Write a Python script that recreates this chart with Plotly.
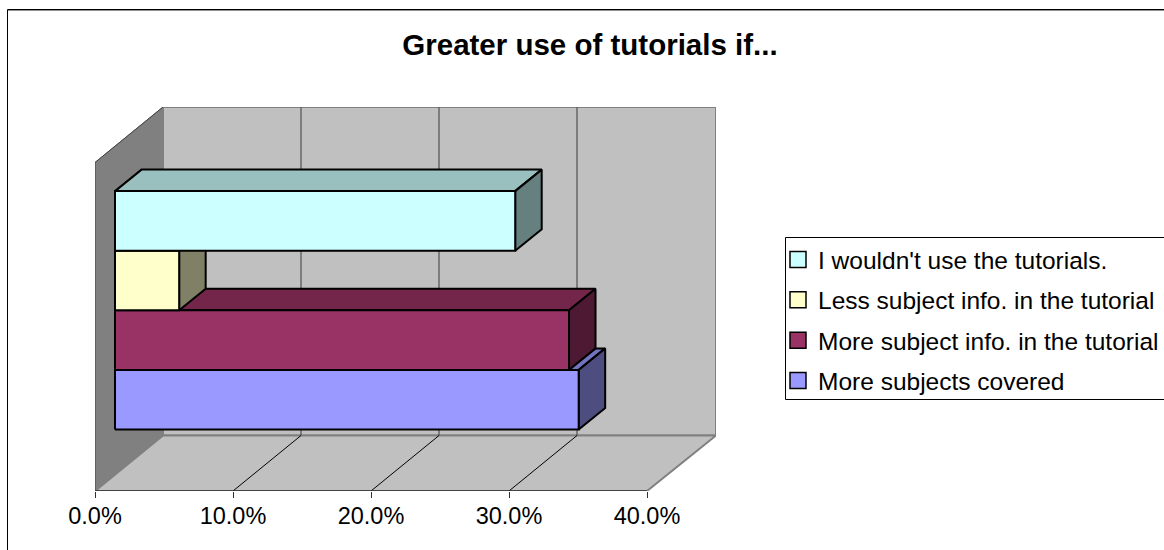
import plotly.graph_objects as go

categories = ["More subjects covered", "More subject info. in the tutorial",
              "Less subject info. in the tutorial", "I wouldn't use the tutorials."]
values = [33.6, 32.9, 4.65, 29.0]
front_colors = ["#9999FF", "#993366", "#FFFFCC", "#CCFFFF"]
top_colors = ["#7373BF", "#732649", "#BFBF99", "#99BFBF"]
side_colors = ["#4D4D80", "#4D1933", "#808066", "#668080"]
tick_values = [0, 10, 20, 30, 40]
tick_labels = ["0.0%", "10.0%", "20.0%", "30.0%", "40.0%"]
title_text = "<b>Greater use of tutorials if...</b>"

# pixel frame of the axes
L, R, T, B = 95, 716, 107, 491
PX = 13.8   # px per percent
PY = 59.6   # px per row
X_MAX = (R - L) / PX
Y_MAX = (B - T) / PY
WALL_DX, WALL_DY = 68 / PX, 55.5 / PY
BAR_DX, BAR_DY = 26.5 / PX, 21.5 / PY
BAR_X0 = 20 / PX
ROW_Y0 = (B - 429.5) / PY
AX_MAX = 40
FONT = "Liberation Sans, Arial, sans-serif"


def px(x):
    return (x - L) / (R - L)


def py(y):
    return (B - y) / (B - T)


def poly(xs, ys, fill, line, width=1.0):
    return go.Scatter(x=xs + xs[:1], y=ys + ys[:1], mode="lines", fill="toself", fillcolor=fill,
                      line=dict(color=line, width=width), hoverinfo="skip", showlegend=False)


def seg(xs, ys, color, width):
    return go.Scatter(x=xs, y=ys, mode="lines", line=dict(color=color, width=width),
                      hoverinfo="skip", showlegend=False)


fig = go.Figure()
wx, wy = WALL_DX, WALL_DY
top_y = Y_MAX
# walls and floor
fig.add_trace(poly([wx, X_MAX, X_MAX, wx], [wy, wy, top_y, top_y], "#C0C0C0", "#808080", 2))
fig.add_trace(poly([0, wx, wx, 0], [0, wy, top_y, top_y - wy], "#808080", "#808080", 1))
fig.add_trace(poly([0, AX_MAX, X_MAX, wx], [0, 0, wy, wy], "#C0C0C0", "#808080", 2))
fig.add_trace(seg([0, 0, wx], [0, top_y - wy, top_y], "#404040", 1))
# gridlines
for t in tick_values[1:-1]:
    fig.add_trace(seg([t + wx, t + wx], [wy, top_y], "#505050", 1.2))
    fig.add_trace(seg([t, t + wx], [0, wy], "#000000", 1))
fig.add_trace(seg([0, AX_MAX], [0, 0], "#303030", 1.5))

# bars, lowest first so that upper bars hide the tops of lower ones
for i, v in enumerate(values):
    x0, x1 = BAR_X0, BAR_X0 + v
    y0, y1 = ROW_Y0 + i, ROW_Y0 + i + 1
    fig.add_trace(poly([x0, x1, x1 + BAR_DX, x0 + BAR_DX], [y1, y1, y1 + BAR_DY, y1 + BAR_DY],
                       top_colors[i], "#000000", 2))
    fig.add_trace(poly([x1, x1 + BAR_DX, x1 + BAR_DX, x1], [y0, y0 + BAR_DY, y1 + BAR_DY, y1],
                       side_colors[i], "#000000", 2))
    fig.add_trace(poly([x0, x1, x1, x0], [y0, y0, y1, y1], front_colors[i], "#000000", 2))

# legend entries, top to bottom
for i in range(len(categories) - 1, -1, -1):
    fig.add_trace(go.Scatter(x=[None], y=[None], mode="markers", name=categories[i],
                             legendgroup=categories[i],
                             marker=dict(symbol="square", size=16, color=front_colors[i],
                                         line=dict(color="#000000", width=1.5))))

lg_left, lg_top, lg_bottom = 785.5, 237.5, 399.5
shapes = [
    dict(type="path", xref="paper", yref="paper", line=dict(color="#000000", width=1),
         path=f"M {px(1164)},{py(lg_top)} L {px(lg_left)},{py(lg_top)} L {px(lg_left)},{py(lg_bottom)} L {px(1164)},{py(lg_bottom)}"),
    dict(type="path", xref="paper", yref="paper", line=dict(color="#909090", width=1),
         path=f"M {px(8)},{py(10.5)} L {px(1164)},{py(10.5)}"),
    dict(type="path", xref="paper", yref="paper", line=dict(color="#000000", width=1),
         path=f"M {px(7.5)},{py(550)} L {px(7.5)},{py(9.5)} L {px(1164)},{py(9.5)}"),
]

fig.update_layout(
    width=1164, height=550, autosize=False,
    paper_bgcolor="#FFFFFF", plot_bgcolor="rgba(0,0,0,0)",
    margin=dict(l=L, r=1164 - R, t=T, b=550 - B, autoexpand=False),
    font=dict(family=FONT, color="#000000", size=23),
    title=dict(text=title_text, xref="container", yref="container", x=590 / 1164, xanchor="center",
               y=1 - 44.5 / 550, yanchor="middle", font=dict(family=FONT, size=29.5, color="#000000")),
    xaxis=dict(range=[0, X_MAX], tickmode="array", tickvals=tick_values, ticktext=tick_labels,
               ticks="outside", ticklen=6, tickwidth=1, tickcolor="#303030", showgrid=False,
               zeroline=False, showline=False, fixedrange=True, ticklabelstandoff=-2,
               tickfont=dict(family=FONT, size=23.5, color="#000000")),
    yaxis=dict(range=[0, Y_MAX], showticklabels=False, ticks="", showgrid=False, zeroline=False,
               showline=False, fixedrange=True),
    legend=dict(x=px(783), y=py(237), xanchor="left", yanchor="top", bgcolor="rgba(0,0,0,0)",
                borderwidth=0, tracegroupgap=5.5, indentation=-5,
                font=dict(family=FONT, size=24.5, color="#000000"),
                itemclick=False, itemdoubleclick=False),
    shapes=shapes,
)
fig.write_html("out.html", config={"displayModeBar": False},
               post_script="document.body.style.margin='0';document.body.style.overflow='hidden';")
